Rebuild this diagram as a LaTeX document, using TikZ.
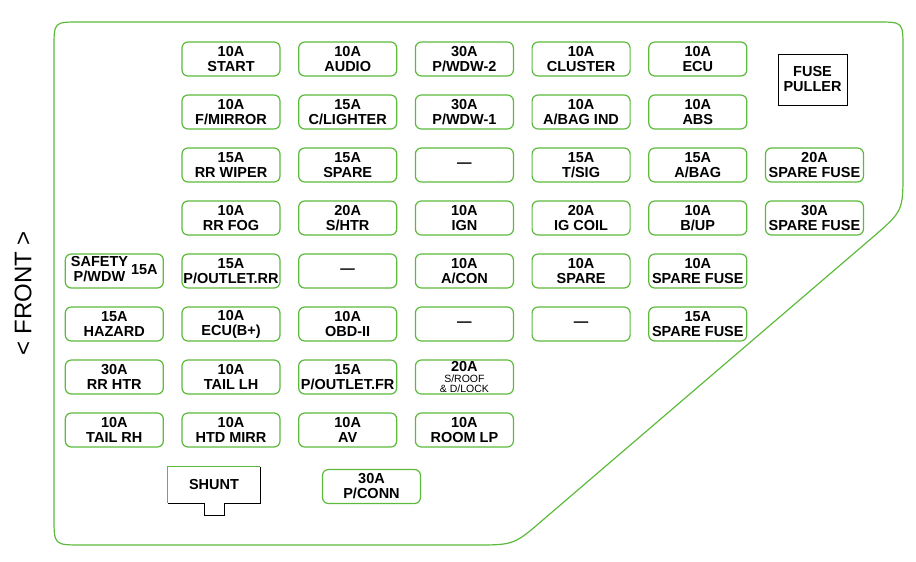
\documentclass[tikz,border=0pt]{standalone}
\usepackage{fontspec}
\setmainfont{Liberation Sans}
\usetikzlibrary{positioning}
\definecolor{fusegreen}{RGB}{92,186,60}
\newcommand{\fusefont}{\fontsize{14.5}{15}\selectfont\bfseries}
\newcommand{\tinyfont}{\fontsize{10.5}{11}\selectfont\mdseries}
\tikzset{
    fuse/.style = {
        draw = fusegreen,
        line width = 1.2pt,
        rounded corners = 6pt,
        minimum width = 98pt,
        minimum height = 34pt,
        inner sep = 0pt,
        align = center,
        font = \fusefont,
        },
    plain box/.style = {
        draw = black,
        line width = 0.9pt,
        inner sep = 0pt,
        align = center,
        font = \fusefont,
        },
    green edge/.style = {
        draw = fusegreen,
        line width = 1.2pt,
        },
    case/.style = {
        draw = fusegreen,
        line width = 1.2pt,
        },
    front/.style = {
        rotate = 90,
        font = \fontsize{24}{28}\selectfont,
        },
}

\begin{document}
\begin{tikzpicture}[x=1pt, y=-1pt, node distance=17.8pt and 17.5pt]
    \useasboundingbox (0,0) rectangle (916,562);

    % fuse box case
    \draw[case] (54,300) -- (54,48) .. controls (54,22) .. (80,22)
        -- (877,22) .. controls (903,22) .. (903,48)
        -- (903,171) .. controls (903,211) .. (873,237)
        -- (544,519) .. controls (514,545) .. (474,545)
        -- (82,545) .. controls (54,545) .. (54,517) -- cycle;

    \node[front] (front) at (23,293) {< FRONT >};

    % row 1
    \node[fuse] (start) at (231,59) {10A\\START};
    \node[fuse, right=of start] (audio) {10A\\AUDIO};
    \node[fuse, right=of audio] (pwdw2) {30A\\P/WDW-2};
    \node[fuse, right=of pwdw2] (cluster) {10A\\CLUSTER};
    \node[fuse, right=of cluster] (ecu) {10A\\ECU};
    \node[plain box, minimum width=69pt, minimum height=51pt] (puller) at (812.5,79.5) {FUSE\\PULLER};

    % row 2
    \node[fuse, below=of start] (fmirror) {10A\\F/MIRROR};
    \node[fuse, right=of fmirror] (clighter) {15A\\C/LIGHTER};
    \node[fuse, right=of clighter] (pwdw1) {30A\\P/WDW-1};
    \node[fuse, right=of pwdw1] (abagind) {10A\\A/BAG IND};
    \node[fuse, right=of abagind] (abs) {10A\\ABS};

    % row 3
    \node[fuse, below=of fmirror] (rrwiper) {15A\\RR WIPER};
    \node[fuse, right=of rrwiper] (spare) {15A\\SPARE};
    \node[fuse, right=of spare] (empty1) {—};
    \node[fuse, right=of empty1] (tsig) {15A\\T/SIG};
    \node[fuse, right=of tsig] (abag) {15A\\A/BAG};
    \node[fuse, right=of abag] (sparefuse20) {20A\\SPARE FUSE};

    % row 4
    \node[fuse, below=of rrwiper] (rrfog) {10A\\RR FOG};
    \node[fuse, right=of rrfog] (shtr) {20A\\S/HTR};
    \node[fuse, right=of shtr] (ign) {10A\\IGN};
    \node[fuse, right=of ign] (igcoil) {20A\\IG COIL};
    \node[fuse, right=of igcoil] (bup) {10A\\B/UP};
    \node[fuse, right=of bup] (sparefuse30) {30A\\SPARE FUSE};

    % row 5
    \node[fuse, below=of rrfog] (poutletrr) {15A\\P/OUTLET.RR};
    \node[fuse, left=of poutletrr] (safety) {\begin{tabular}{@{}c@{}}SAFETY\\P/WDW\end{tabular}\hspace{3pt}15A};
    \node[fuse, right=of poutletrr] (empty2) {—};
    \node[fuse, right=of empty2] (acon) {10A\\A/CON};
    \node[fuse, right=of acon] (spare10) {10A\\SPARE};
    \node[fuse, right=of spare10] (sparefuse10) {10A\\SPARE FUSE};

    % row 6
    \node[fuse, below=of safety] (hazard) {15A\\HAZARD};
    \node[fuse, right=of hazard] (ecub) {10A\\ECU(B+)};
    \node[fuse, right=of ecub] (obd) {10A\\OBD-II};
    \node[fuse, right=of obd] (empty3) {—};
    \node[fuse, right=of empty3] (empty4) {—};
    \node[fuse, right=of empty4] (sparefuse15) {15A\\SPARE FUSE};

    % row 7
    \node[fuse, below=of hazard] (rrhtr) {30A\\RR HTR};
    \node[fuse, right=of rrhtr] (taillh) {10A\\TAIL LH};
    \node[fuse, right=of taillh] (poutletfr) {15A\\P/OUTLET.FR};
    \node[fuse, right=of poutletfr] (sroof) {20A\\[-4.5pt]{\tinyfont S/ROOF}\\[-4.5pt]{\tinyfont \& D/LOCK}};

    % row 8
    \node[fuse, below=of rrhtr] (tailrh) {10A\\TAIL RH};
    \node[fuse, right=of tailrh] (htdmirr) {10A\\HTD MIRR};
    \node[fuse, right=of htdmirr] (av) {10A\\AV};
    \node[fuse, right=of av] (roomlp) {10A\\ROOM LP};

    % shunt and p/conn
    \node[plain box, draw=none, minimum width=92pt, minimum height=36pt] (shunt) at (214,485) {SHUNT};
    \draw[black, line width=0.9pt] (shunt.north east) -- (shunt.south east) -- ([xshift=10pt]shunt.south)
        -- ++(0,12) -- ++(-20,0) -- ([xshift=-10pt]shunt.south) -- (shunt.south west);
    \draw[green edge] (shunt.south west) -- (shunt.north west) -- (shunt.north east);
    \node[fuse] (pconn) at (371.5,486.5) {30A\\P/CONN};
\end{tikzpicture}
\end{document}
